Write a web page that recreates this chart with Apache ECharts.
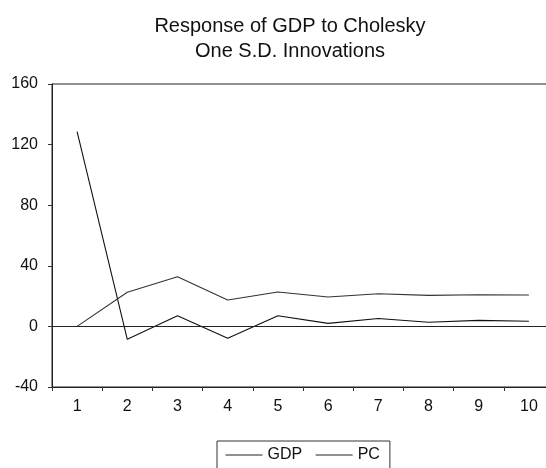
<!DOCTYPE html>
<html>
<head>
<meta charset="utf-8">
<script src="https://cdn.jsdelivr.net/npm/echarts@6/dist/echarts.min.js"></script>
<style>
html,body{margin:0;padding:0;background:#fff;}
#chart{width:546px;height:468px;}
</style>
</head>
<body>
<div id="chart"></div>
<script>
const categories = ['1','2','3','4','5','6','7','8','9','10'];
const gdpValues = [128.5, -8.5, 7.0, -7.9, 7.0, 2.0, 5.2, 2.7, 4.0, 3.4];
const pcValues = [0.0, 22.5, 32.8, 17.4, 22.7, 19.4, 21.6, 20.5, 20.9, 20.7];
const yMin = -40, yMax = 160, yStep = 40;
const titleLines = ['Response of GDP to Cholesky', 'One S.D. Innovations'];
const seriesNames = ['GDP', 'PC'];

const FONT = '"Liberation Sans", Arial, sans-serif';
const chart = echarts.init(document.getElementById('chart'), null, {renderer: 'canvas'});
chart.setOption({
  animation: false,
  backgroundColor: '#ffffff',
  textStyle: {fontFamily: FONT},
  title: {
    text: titleLines.join('\n'),
    left: 290,
    top: 14,
    padding: 0,
    textAlign: 'center',
    textStyle: {fontFamily: FONT, fontSize: 20, fontWeight: 'normal', color: '#111', lineHeight: 25}
  },
  legend: {
    data: seriesNames,
    left: 217,
    top: 441,
    orient: 'horizontal',
    padding: [6, 10, 16, 8],
    itemGap: 13,
    itemWidth: 37,
    itemHeight: 14,
    borderColor: '#333',
    borderWidth: 1,
    borderRadius: 0,
    itemStyle: {opacity: 0},
    lineStyle: {width: 1, color: '#222'},
    textStyle: {fontFamily: FONT, fontSize: 16, color: '#111'}
  },
  grid: {left: 52, top: 84, width: 502, bottom: 81, show: true, borderColor: '#222', borderWidth: 1,
    containLabel: false, outerBoundsMode: 'none'},
  xAxis: {
    type: 'category',
    data: categories,
    boundaryGap: true,
    axisLine: {onZero: false, lineStyle: {color: '#222', width: 1}},
    axisTick: {show: true, inside: false, length: 4, lineStyle: {color: '#333'}},
    axisLabel: {margin: 12, fontFamily: FONT, fontSize: 16, color: '#111'},
    splitLine: {show: false}
  },
  yAxis: {
    type: 'value',
    min: yMin, max: yMax, interval: yStep,
    axisLine: {show: true, lineStyle: {color: '#222', width: 1}},
    axisTick: {show: true, inside: false, length: 4, lineStyle: {color: '#333'}},
    axisLabel: {margin: 14, fontFamily: FONT, fontSize: 16, color: '#111'},
    splitLine: {show: false}
  },
  series: [
    {
      name: seriesNames[0], type: 'line', data: gdpValues, symbol: 'none',
      lineStyle: {color: '#111', width: 1.1}, itemStyle: {color: '#111'},
      markLine: {silent: true, symbol: ['none','none'], label: {show: false},
        lineStyle: {color: '#222', type: 'solid', width: 1}, data: [{yAxis: 0}]}
    },
    {
      name: seriesNames[1], type: 'line', data: pcValues, symbol: 'none',
      lineStyle: {color: '#333', width: 1.1}, itemStyle: {color: '#333'}
    }
  ]
});
</script>
</body>
</html>
